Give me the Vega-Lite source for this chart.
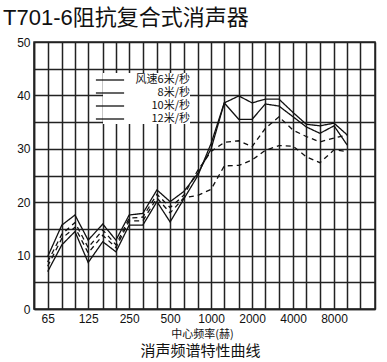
{
  "$schema": "https://vega.github.io/schema/vega-lite/v6.json",
  "width": 341,
  "height": 267,
  "autosize": {"type": "none"},
  "padding": {"left": 34, "top": 42, "right": 12, "bottom": 53},
  "background": "white",
  "title": {
    "text": "T701-6阻抗复合式消声器",
    "anchor": "start",
    "frame": "group",
    "dx": -31,
    "baseline": "alphabetic",
    "offset": 0,
    "dy": 11,
    "font": "Liberation Sans, Noto Sans CJK SC",
    "fontSize": 22,
    "fontWeight": "normal",
    "color": "#111"
  },
  "config": {
    "view": {"stroke": "#222", "strokeWidth": 1.5},
    "axis": {"labelFont": "Liberation Sans", "labelColor": "#111", "titleColor": "#111"}
  },
  "data": {
    "values": [
      {"f": 63, "db": 9.8, "s": "风速6米/秒"}, {"f": 80, "db": 15.7, "s": "风速6米/秒"}, {"f": 100, "db": 17.6, "s": "风速6米/秒"}, {"f": 125, "db": 12.9, "s": "风速6米/秒"}, {"f": 160, "db": 15.9, "s": "风速6米/秒"}, {"f": 200, "db": 12.9, "s": "风速6米/秒"}, {"f": 250, "db": 17.6, "s": "风速6米/秒"}, {"f": 315, "db": 17.9, "s": "风速6米/秒"}, {"f": 400, "db": 22.3, "s": "风速6米/秒"}, {"f": 500, "db": 20.1, "s": "风速6米/秒"}, {"f": 630, "db": 22.0, "s": "风速6米/秒"}, {"f": 800, "db": 25.4, "s": "风速6米/秒"}, {"f": 1000, "db": 30.0, "s": "风速6米/秒"}, {"f": 1250, "db": 38.6, "s": "风速6米/秒"}, {"f": 1600, "db": 39.9, "s": "风速6米/秒"}, {"f": 2000, "db": 38.6, "s": "风速6米/秒"}, {"f": 2500, "db": 39.3, "s": "风速6米/秒"}, {"f": 3150, "db": 39.3, "s": "风速6米/秒"}, {"f": 4000, "db": 36.8, "s": "风速6米/秒"}, {"f": 5000, "db": 34.6, "s": "风速6米/秒"}, {"f": 6300, "db": 34.3, "s": "风速6米/秒"}, {"f": 8000, "db": 34.8, "s": "风速6米/秒"}, {"f": 10000, "db": 32.6, "s": "风速6米/秒"},
      {"f": 63, "db": 7.0, "s": "8米/秒"}, {"f": 80, "db": 12.0, "s": "8米/秒"}, {"f": 100, "db": 14.5, "s": "8米/秒"}, {"f": 125, "db": 8.7, "s": "8米/秒"}, {"f": 160, "db": 12.6, "s": "8米/秒"}, {"f": 200, "db": 10.7, "s": "8米/秒"}, {"f": 250, "db": 15.7, "s": "8米/秒"}, {"f": 315, "db": 15.7, "s": "8米/秒"}, {"f": 400, "db": 20.1, "s": "8米/秒"}, {"f": 500, "db": 16.3, "s": "8米/秒"}, {"f": 630, "db": 20.6, "s": "8米/秒"}, {"f": 800, "db": 25.0, "s": "8米/秒"}, {"f": 1000, "db": 31.0, "s": "8米/秒"}, {"f": 1250, "db": 38.6, "s": "8米/秒"}, {"f": 1600, "db": 35.5, "s": "8米/秒"}, {"f": 2000, "db": 35.5, "s": "8米/秒"}, {"f": 2500, "db": 38.4, "s": "8米/秒"}, {"f": 3150, "db": 38.0, "s": "8米/秒"}, {"f": 4000, "db": 36.0, "s": "8米/秒"}, {"f": 5000, "db": 34.1, "s": "8米/秒"}, {"f": 6300, "db": 32.9, "s": "8米/秒"}, {"f": 8000, "db": 34.3, "s": "8米/秒"}, {"f": 10000, "db": 30.7, "s": "8米/秒"},
      {"f": 63, "db": 8.8, "s": "10米/秒"}, {"f": 80, "db": 14.0, "s": "10米/秒"}, {"f": 100, "db": 16.2, "s": "10米/秒"}, {"f": 125, "db": 11.5, "s": "10米/秒"}, {"f": 160, "db": 14.8, "s": "10米/秒"}, {"f": 200, "db": 12.0, "s": "10米/秒"}, {"f": 250, "db": 17.0, "s": "10米/秒"}, {"f": 315, "db": 17.2, "s": "10米/秒"}, {"f": 400, "db": 21.5, "s": "10米/秒"}, {"f": 500, "db": 19.0, "s": "10米/秒"}, {"f": 630, "db": 21.3, "s": "10米/秒"}, {"f": 800, "db": 26.0, "s": "10米/秒"}, {"f": 1000, "db": 29.5, "s": "10米/秒"}, {"f": 1250, "db": 31.2, "s": "10米/秒"}, {"f": 1600, "db": 31.5, "s": "10米/秒"}, {"f": 2000, "db": 30.4, "s": "10米/秒"}, {"f": 2500, "db": 33.8, "s": "10米/秒"}, {"f": 3150, "db": 36.0, "s": "10米/秒"}, {"f": 4000, "db": 33.5, "s": "10米/秒"}, {"f": 5000, "db": 32.3, "s": "10米/秒"}, {"f": 6300, "db": 31.3, "s": "10米/秒"}, {"f": 8000, "db": 32.0, "s": "10米/秒"}, {"f": 10000, "db": 32.6, "s": "10米/秒"},
      {"f": 63, "db": 8.0, "s": "12米/秒"}, {"f": 80, "db": 13.2, "s": "12米/秒"}, {"f": 100, "db": 15.3, "s": "12米/秒"}, {"f": 125, "db": 10.5, "s": "12米/秒"}, {"f": 160, "db": 13.8, "s": "12米/秒"}, {"f": 200, "db": 11.5, "s": "12米/秒"}, {"f": 250, "db": 16.5, "s": "12米/秒"}, {"f": 315, "db": 16.5, "s": "12米/秒"}, {"f": 400, "db": 20.8, "s": "12米/秒"}, {"f": 500, "db": 18.0, "s": "12米/秒"}, {"f": 630, "db": 20.8, "s": "12米/秒"}, {"f": 800, "db": 21.3, "s": "12米/秒"}, {"f": 1000, "db": 22.4, "s": "12米/秒"}, {"f": 1250, "db": 26.8, "s": "12米/秒"}, {"f": 1600, "db": 26.9, "s": "12米/秒"}, {"f": 2000, "db": 27.9, "s": "12米/秒"}, {"f": 2500, "db": 29.7, "s": "12米/秒"}, {"f": 3150, "db": 30.6, "s": "12米/秒"}, {"f": 4000, "db": 30.5, "s": "12米/秒"}, {"f": 5000, "db": 28.5, "s": "12米/秒"}, {"f": 6300, "db": 27.4, "s": "12米/秒"}, {"f": 8000, "db": 29.8, "s": "12米/秒"}, {"f": 10000, "db": 29.5, "s": "12米/秒"}
    ]
  },
  "mark": {"type": "line", "strokeWidth": 1.3},
  "encoding": {
    "x": {
      "field": "f",
      "type": "quantitative",
      "scale": {"type": "log", "domain": [50, 16000], "nice": false},
      "axis": {
        "values": [50, 63, 80, 100, 125, 160, 200, 250, 315, 400, 500, 630, 800, 1000, 1250, 1600, 2000, 2500, 3150, 4000, 5000, 6300, 8000, 10000, 12500, 16000],
        "labelExpr": "datum.value == 63 ? '65' : (indexof([125, 250, 500, 1000, 2000, 4000, 8000], datum.value) >= 0 ? format(datum.value, 'd') : '')",
        "labelOverlap": false,
        "labelFlush": false,
        "labelFontSize": 12,
        "labelPadding": 4,
        "ticks": false,
        "domain": true,
        "domainColor": "#222",
        "domainWidth": 1.5,
        "grid": true,
        "gridColor": "#222",
        "gridWidth": 1.5,
        "gridOpacity": 1,
        "title": "中心频率(赫)",
        "titleFont": "Noto Sans CJK SC",
        "titleFontSize": 11,
        "titleFontWeight": "normal",
        "titleX": 168,
        "titleY": 25,
        "titleBaseline": "middle",
        "titleAlign": "center"
      }
    },
    "y": {
      "field": "db",
      "type": "quantitative",
      "scale": {"domain": [0, 50], "nice": false},
      "axis": {
        "values": [0, 5, 10, 15, 20, 25, 30, 35, 40, 45, 50],
        "labelExpr": "datum.value % 10 == 0 ? datum.label : ''",
        "labelOverlap": false,
        "labelFlush": false,
        "labelFontSize": 12,
        "labelPadding": 4,
        "ticks": false,
        "domainColor": "#222",
        "domainWidth": 1.5,
        "grid": true,
        "gridColor": "#222",
        "gridWidth": 1.5,
        "gridOpacity": 1,
        "title": "消声频谱特性曲线",
        "titleFont": "Noto Sans CJK SC",
        "titleFontSize": 15,
        "titleFontWeight": "normal",
        "titleAngle": 0,
        "titleX": 166,
        "titleY": 308,
        "titleAlign": "center",
        "titleBaseline": "middle"
      }
    },
    "strokeDash": {
      "condition": {"test": "datum.s == '10米/秒' || datum.s == '12米/秒'", "value": [5, 4]},
      "value": [1, 0]
    },
    "color": {
      "field": "s",
      "type": "nominal",
      "scale": {"domain": ["风速6米/秒", "8米/秒", "10米/秒", "12米/秒"], "range": ["#111", "#111", "#111", "#111"]},
      "legend": {
        "orient": "none",
        "legendX": 69,
        "legendY": 31,
        "title": null,
        "symbolType": "M-2.35,0H2.35",
        "symbolSize": 144,
        "symbolStrokeWidth": 1.3,
        "labelAlign": "right",
        "labelOffset": 73,
        "labelFont": "Noto Sans CJK SC",
        "labelFontSize": 11,
        "labelColor": "#111",
        "rowPadding": 1,
        "padding": 0,
        "fillColor": "white"
      }
    }
  }
}
